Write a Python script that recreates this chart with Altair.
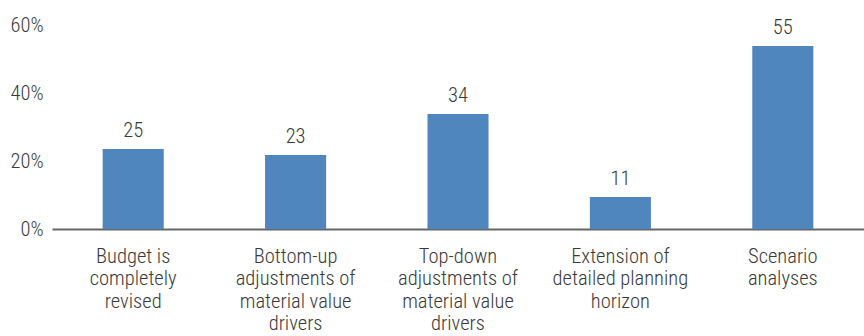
import altair as alt
import pandas as pd

categories = [
    "Budget is|completely|revised",
    "Bottom-up|adjustments of|material value|drivers",
    "Top-down|adjustments of|material value|drivers",
    "Extension of|detailed planning|horizon",
    "Scenario|analyses",
]
bar_values = [23.5, 21.8, 33.8, 9.4, 53.8]
label_values = [25, 23, 34, 11, 55]
y_ticks = [0, 20, 40, 60]

df = pd.DataFrame({"cat": categories, "value": bar_values, "label": label_values})

FONT = "'Roboto Condensed', 'DejaVu Sans Condensed', sans-serif"
TEXT = "#3a3a3a"
FS = 20.5

x = alt.X(
    "cat:N",
    sort=categories,
    scale=alt.Scale(paddingInner=0.624, paddingOuter=0.312),
    axis=alt.Axis(
        title=None,
        labelAngle=0,
        labelExpr="split(datum.label, '|')",
        labelFont=FONT,
        labelFontSize=FS,
        labelFontWeight=300,
        labelColor=TEXT,
        labelLineHeight=22.5,
        labelPadding=17,
        labelBaseline="top",
        ticks=False,
        domainColor="#666666",
        domainWidth=2,
        grid=False,
    ),
)

y = alt.Y(
    "value:Q",
    scale=alt.Scale(domain=[0, 60], nice=False),
    axis=alt.Axis(
        title=None,
        values=y_ticks,
        labelExpr="datum.value + '%'",
        labelFont=FONT,
        labelFontSize=FS,
        labelFontWeight=300,
        labelColor=TEXT,
        labelPadding=9,
        ticks=False,
        domain=False,
        grid=False,
    ),
)

bars = alt.Chart(df).mark_bar(color="#4F86BD").encode(x=x, y=y)
labels = alt.Chart(df).mark_text(
    font=FONT, fontSize=FS, fontWeight=300, color=TEXT, baseline="bottom", dy=-8
).encode(x=alt.X("cat:N", sort=categories), y="value:Q", text="label:Q")

chart = (
    alt.layer(bars, labels)
    .properties(
        width=812,
        height=204,
        autosize=alt.AutoSizeParams(type="none"),
        padding={"left": 52, "top": 25, "right": 0, "bottom": 107},
    )
    .configure_view(stroke=None)
)

chart.save("out.html", embed_options={"renderer": "svg", "actions": False})
